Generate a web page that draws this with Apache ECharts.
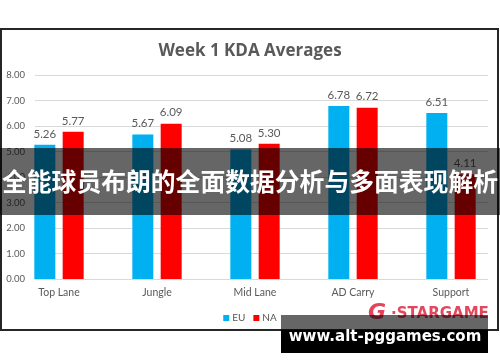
<!DOCTYPE html>
<html><head><meta charset="utf-8">
<script src="https://cdn.jsdelivr.net/npm/echarts@6/dist/echarts.min.js"></script>
<style>html,body{margin:0;padding:0;background:#fff}#c{width:500px;height:362px}</style>
</head><body><div id="c"></div>
<script>
const categories = ['Top Lane', 'Jungle', 'Mid Lane', 'AD Carry', 'Support'];
const euValues = [5.26, 5.67, 5.08, 6.78, 6.51];
const naValues = [5.77, 6.09, 5.30, 6.72, 4.11];
const yMin = 0, yMax = 8, yInterval = 1;
const titleText = 'Week 1 KDA Averages';
const bannerText = '全能球员布朗的全面数据分析与多面表现解析';
const watermarkText = 'www.alt-pggames.com';

const gray = '#595959';
const font = '"Open Sans", "Noto Sans", sans-serif';
const small = 'Lato, "Open Sans", sans-serif';
const chart = echarts.init(document.getElementById('c'), null, {renderer: 'canvas'});
chart.setOption({
  animation: false,
  title: {
    text: titleText, left: 'center', top: 38,
    textStyle: {fontFamily: font, fontSize: 17, fontWeight: 'bold', color: gray}
  },
  legend: {
    data: ['EU', 'NA'], left: 'center', top: 308,
    icon: 'rect', itemWidth: 6, itemHeight: 6, itemGap: 8,
    textStyle: {fontFamily: small, fontSize: 10, color: gray, padding: [0, 0, 0, -2]}
  },
  grid: [
    {left: 35, top: 75, width: 453, height: 204},
    {left: 10, top: 75, width: 503, height: 204}
  ],
  xAxis: [
    {type: 'category', gridIndex: 0, data: categories, show: false},
    {type: 'category', gridIndex: 1, data: categories,
     axisLine: {show: false}, axisTick: {show: false},
     axisLabel: {fontFamily: small, fontSize: 10.5, color: gray, margin: 8}}
  ],
  yAxis: [
    {type: 'value', gridIndex: 0, min: yMin, max: yMax, interval: yInterval,
     axisLine: {show: false}, axisTick: {show: false},
     axisLabel: {fontFamily: small, fontSize: 9.5, color: gray, margin: 10,
                 formatter: v => v.toFixed(2)},
     splitLine: {lineStyle: {color: '#d9d9d9', width: 1}}},
    {type: 'value', gridIndex: 1, min: yMin, max: yMax, interval: yInterval, show: false}
  ],
  series: [
    {name: 'EU', type: 'bar', xAxisIndex: 1, yAxisIndex: 1, data: euValues,
     barWidth: 21, barGap: '35%', itemStyle: {color: '#00b0f0'},
     label: {show: true, position: 'top', distance: 5, fontFamily: small, fontSize: 11.5, color: gray,
             formatter: p => p.value.toFixed(2)}},
    {name: 'NA', type: 'bar', xAxisIndex: 1, yAxisIndex: 1, data: naValues,
     barWidth: 21, barGap: '35%', itemStyle: {color: '#ff0000'},
     label: {show: true, position: 'top', distance: 5, fontFamily: small, fontSize: 11.5, color: gray,
             formatter: p => p.value.toFixed(2)}}
  ],
  graphic: [
    {type: 'rect', shape: {x: 1, y: 29, width: 497, height: 301}, z: 100,
     style: {fill: 'none', stroke: '#262626', lineWidth: 2}},
    {type: 'rect', shape: {x: 0, y: 148, width: 500, height: 67}, z: 101,
     style: {fill: 'rgba(0,0,0,0.6)'}},
    {type: 'text', x: 250, y: 182, z: 102,
     style: {text: bannerText, fill: '#fff', font: 'bold 24.8px "Noto Sans CJK SC", sans-serif',
             textAlign: 'center', textVerticalAlign: 'middle'}},
    {type: 'text', x: 368, y: 313, z: 101,
     style: {text: 'G', fill: '#e2445c', font: 'italic 900 22px "DejaVu Sans", sans-serif',
             textAlign: 'left', textVerticalAlign: 'middle'}},
    {type: 'text', x: 391, y: 314, z: 101,
     style: {text: '·STARGAME', fill: '#e2485c', font: 'bold 15px "DejaVu Sans", sans-serif',
             textAlign: 'left', textVerticalAlign: 'middle'}},
    {type: 'rect', shape: {x: 281, y: 315, width: 207, height: 15}, z: 103,
     style: {fill: 'rgba(0,0,0,0.6)'}},
    {type: 'rect', shape: {x: 281, y: 330, width: 207, height: 23}, z: 103,
     style: {fill: '#000'}},
    {type: 'text', x: 385, y: 337, z: 104,
     style: {text: watermarkText, fill: '#fff', font: 'bold 15px "DejaVu Sans", sans-serif',
             textAlign: 'center', textVerticalAlign: 'middle'}}
  ]
});
</script></body></html>
